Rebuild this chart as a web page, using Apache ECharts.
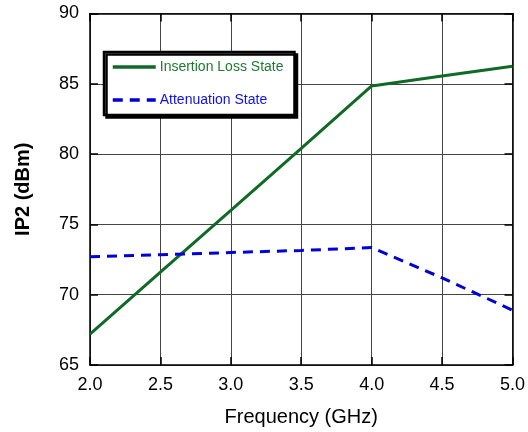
<!DOCTYPE html>
<html>
<head>
<meta charset="utf-8">
<script src="https://cdn.jsdelivr.net/npm/echarts@6/dist/echarts.min.js"></script>
<style>html,body{margin:0;padding:0;background:#fff}#c{width:528px;height:432px}</style>
</head>
<body>
<div id="c"></div>
<script>
const freqs = [2.0, 2.5, 3.0, 3.5, 4.0, 4.5, 5.0];
const insertionLoss = [67.2, 71.6, 76.0, 80.4, 84.85, 85.55, 86.25];
const attenuation = [72.7, 72.85, 73.0, 73.15, 73.35, 71.2, 68.9];
const seriesNames = ['Insertion Loss State', 'Attenuation State'];
const xTitle = 'Frequency (GHz)';
const yTitle = 'IP2 (dBm)';

const greenC = '#0f6a26';
const blueC = '#0000d8';
const font = 'Arial, "Liberation Sans", sans-serif';

const chart = echarts.init(document.getElementById('c'), null, {renderer: 'canvas'});
const axisBase = {
  axisLine: {show: true, lineStyle: {color: '#000', width: 1.5}},
  axisTick: {show: true, inside: true, length: 8, lineStyle: {color: '#000', width: 1.5}},
};
chart.setOption({
  animation: false,
  backgroundColor: '#fff',
  grid: {left: 90, right: 15.5, top: 13.5, bottom: 66, containLabel: false},
  legend: {
    left: 104, top: 52, orient: 'vertical',
    padding: [8, 11, 8, 7],
    itemWidth: 43, itemHeight: 14, itemGap: 19,
    backgroundColor: '#fff', borderColor: '#000', borderWidth: 2.5,
    shadowColor: '#000', shadowOffsetX: 2.5, shadowOffsetY: 2.5, shadowBlur: 0.1,
    itemStyle: {opacity: 0},
    lineStyle: {width: 3.5},
    textStyle: {fontFamily: font, fontSize: 14, padding: [0, 0, 0, -1]},
    data: [
      {name: seriesNames[0], textStyle: {color: '#1e7a30'}},
      {name: seriesNames[1], textStyle: {color: '#1010e8'}}
    ]
  },
  xAxis: [
    Object.assign({}, axisBase, {
      type: 'value', min: 2, max: 5, interval: 0.5,
      name: xTitle, nameLocation: 'middle', nameGap: 42,
      nameTextStyle: {fontFamily: font, fontSize: 20, color: '#000'},
      axisLabel: {fontFamily: font, fontSize: 18, color: '#000', margin: 11,
        formatter: v => v.toFixed(1)},
      splitLine: {show: true, lineStyle: {color: '#444', width: 1}}
    }),
    Object.assign({}, axisBase, {
      type: 'value', min: 2, max: 5, interval: 0.5, position: 'top',
      axisLabel: {show: false}, splitLine: {show: false}
    })
  ],
  yAxis: [
    Object.assign({}, axisBase, {
      type: 'value', min: 65, max: 90, interval: 5,
      name: yTitle, nameLocation: 'middle', nameGap: 57,
      nameTextStyle: {fontFamily: font, fontSize: 20, fontWeight: 'bold', color: '#000'},
      axisLabel: {fontFamily: font, fontSize: 18, color: '#000', margin: 11},
      splitLine: {show: true, lineStyle: {color: '#444', width: 1}}
    }),
    Object.assign({}, axisBase, {
      type: 'value', min: 65, max: 90, interval: 5, position: 'right',
      axisLabel: {show: false}, splitLine: {show: false}
    })
  ],
  series: [
    {
      name: seriesNames[0], type: 'line', symbol: 'none', showSymbol: false,
      data: freqs.map((f, i) => [f, insertionLoss[i]]),
      lineStyle: {color: greenC, width: 3},
      itemStyle: {color: greenC},
      z: 3
    },
    {
      name: seriesNames[1], type: 'line', symbol: 'none', showSymbol: false,
      data: freqs.map((f, i) => [f, attenuation[i]]),
      lineStyle: {color: blueC, width: 3, type: [10, 7]},
      itemStyle: {color: blueC},
      z: 3
    }
  ]
});
</script>
</body>
</html>
